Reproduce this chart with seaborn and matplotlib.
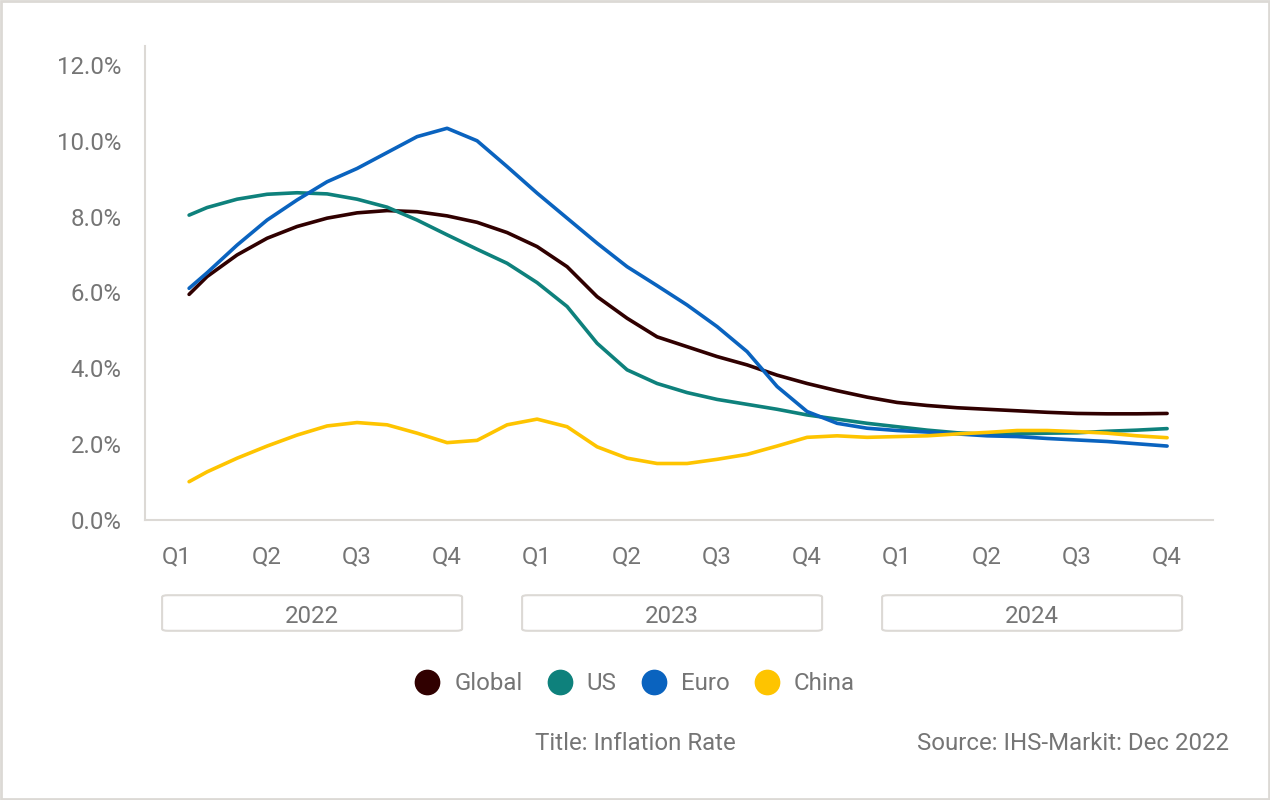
import numpy as np
import pandas as pd
import matplotlib
matplotlib.use('Agg')
import matplotlib.pyplot as plt
import seaborn as sns
from matplotlib.patches import FancyBboxPatch, Rectangle
from matplotlib.lines import Line2D
import matplotlib.transforms as mtransforms

# month index, 0 = Q1 2022 tick, 3 months per quarter
months = [0.4] + list(range(1, 34))

global_rate = [5.95, 6.42, 6.99, 7.43, 7.74, 7.96, 8.10, 8.16, 8.13, 8.02,
               7.85, 7.58, 7.21, 6.68, 5.89, 5.32, 4.83, 4.57, 4.31, 4.09,
               3.82, 3.60, 3.41, 3.24, 3.10, 3.02, 2.96, 2.92, 2.88, 2.84,
               2.81, 2.80, 2.80, 2.81]
us_rate = [8.04, 8.24, 8.46, 8.59, 8.63, 8.60, 8.46, 8.25, 7.91, 7.52,
           7.14, 6.77, 6.26, 5.63, 4.66, 3.96, 3.60, 3.36, 3.18, 3.05,
           2.92, 2.77, 2.66, 2.55, 2.46, 2.37, 2.30, 2.26, 2.27, 2.29,
           2.30, 2.34, 2.37, 2.41]
euro_rate = [6.11, 6.52, 7.25, 7.91, 8.44, 8.92, 9.27, 9.69, 10.11, 10.33,
             10.00, 9.32, 8.62, 7.96, 7.30, 6.68, 6.18, 5.67, 5.10, 4.44,
             3.52, 2.86, 2.55, 2.42, 2.36, 2.32, 2.27, 2.22, 2.20, 2.15,
             2.11, 2.07, 2.01, 1.95]
china_rate = [1.01, 1.27, 1.63, 1.95, 2.24, 2.48, 2.57, 2.51, 2.29, 2.04,
              2.10, 2.51, 2.66, 2.46, 1.93, 1.63, 1.49, 1.49, 1.60, 1.73,
              1.95, 2.18, 2.22, 2.18, 2.20, 2.22, 2.27, 2.31, 2.36, 2.36,
              2.33, 2.29, 2.22, 2.17]

series = ['Global', 'US', 'Euro', 'China']
colors = ['#300000', '#0e817c', '#0a63bf', '#fec400']
quarter_labels = ['Q1', 'Q2', 'Q3', 'Q4'] * 3
years = ['2022', '2023', '2024']
y_ticks = [0, 2, 4, 6, 8, 10, 12]

df = pd.DataFrame({
    'month': months * 4,
    'rate': global_rate + us_rate + euro_rate + china_rate,
    'series': np.repeat(series, len(months)),
})

sns.set_style('white')
plt.rcParams['font.family'] = ['Roboto', 'DejaVu Sans']
text_color = '#757575'
grey = '#dcd9d5'
fs = 17.3

fig = plt.figure(figsize=(12.7, 8.0), dpi=100)
ax = fig.add_axes([145 / 1270, 280 / 800, 1068 / 1270, 474 / 800])

sns.lineplot(data=df, x='month', y='rate', hue='series', hue_order=series,
             palette=colors, linewidth=2.6, legend=False, ax=ax,
             solid_capstyle='round', solid_joinstyle='round')

ax.set_xlim(-1.07, 34.53)
ax.set_ylim(0, 12.5)
ax.set_yticks(y_ticks)
ax.set_yticklabels([f'{v:.1f}%' for v in y_ticks])
ax.set_xticks(range(0, 34, 3))
ax.set_xticklabels(quarter_labels)
ax.set_xlabel('')
ax.set_ylabel('')
ax.tick_params(axis='both', length=0, labelsize=fs, colors=text_color)
ax.tick_params(axis='x', pad=18)
ax.tick_params(axis='y', pad=17)
for side in ['top', 'right']:
    ax.spines[side].set_visible(False)
for side in ['left', 'bottom']:
    ax.spines[side].set_color(grey)
    ax.spines[side].set_linewidth(1.5)

# year boxes below the quarter labels
trans = mtransforms.blended_transform_factory(ax.transData, fig.transFigure)
for i, yr in enumerate(years):
    m0 = i * 12
    box = FancyBboxPatch((m0 - 0.5, 0.2115), 10, 0.0445,
                         boxstyle='round,pad=0,rounding_size=0.2',
                         transform=trans, facecolor='white', edgecolor=grey,
                         linewidth=1.5, clip_on=False, mutation_aspect=0.012)
    fig.patches.append(box)
    fig.text(m0 + 4.5, 0.2295, yr, transform=trans, ha='center', va='center',
             fontsize=fs, color=text_color)

handles = [Line2D([], [], linestyle='none', marker='o', markersize=17.5,
                  markerfacecolor=c, markeredgecolor=c) for c in colors]
fig.legend(handles, series, loc='center', bbox_to_anchor=(0.5, 0.145),
           ncol=4, frameon=False, fontsize=fs, labelcolor=text_color,
           handletextpad=0.62, columnspacing=1.05, handlelength=1.0)

fig.text(0.5, 0.0705, 'Title: Inflation Rate', ha='center', va='center',
         fontsize=fs, color=text_color)
fig.text(1229 / 1270, 0.0705, 'Source: IHS-Markit: Dec 2022', ha='right',
         va='center', fontsize=fs, color=text_color)

fig.patches.append(Rectangle((0.001, 0.0015), 0.998, 0.997,
                             transform=fig.transFigure, fill=False,
                             edgecolor=grey, linewidth=2))

fig.savefig('out.png', dpi=100, facecolor='white')
